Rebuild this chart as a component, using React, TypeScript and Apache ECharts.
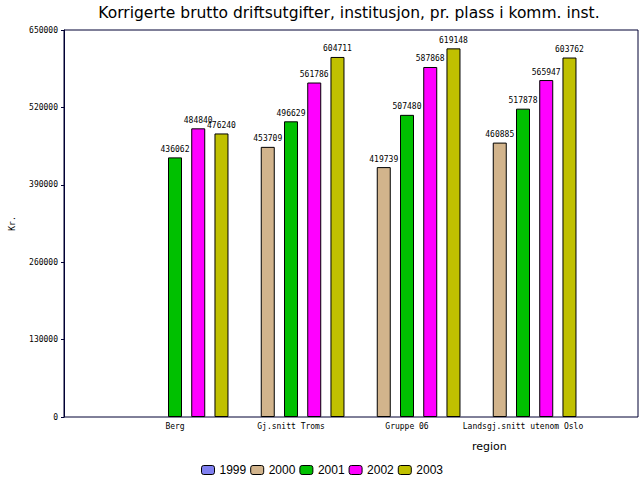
import React, { useEffect, useRef } from "react";
import * as echarts from "echarts";

const categories = ["Berg", "Gj.snitt Troms", "Gruppe 06", "Landsgj.snitt utenom Oslo"];
const years = ["1999", "2000", "2001", "2002", "2003"];
const v1999: (number | null)[] = [null, null, null, null];
const v2000: (number | null)[] = [null, 453709, 419739, 460885];
const v2001: (number | null)[] = [436062, 496629, 507480, 517878];
const v2002: (number | null)[] = [484840, 561786, 587868, 565947];
const v2003: (number | null)[] = [476240, 604711, 619148, 603762];
const yTicks = [0, 130000, 260000, 390000, 520000, 650000];
const colors = ["#8080f0", "#d2b48c", "#00c000", "#ff00ff", "#c0c000"];

export default function App() {
  const ref = useRef<HTMLDivElement>(null);
  useEffect(() => {
    if (!ref.current) return;
    const chart = echarts.init(ref.current, null, { renderer: "svg" });
    const seriesData = [v1999, v2000, v2001, v2002, v2003];
    const mono = "DejaVu Sans Mono";
    chart.setOption({
      animation: false,
      backgroundColor: "#ffffff",
      title: {
        text: "Korrigerte brutto driftsutgifter, institusjon, pr. plass i komm. inst.",
        left: 344,
        textAlign: "center",
        top: 0,
        textStyle: { fontFamily: "DejaVu Sans", fontSize: 15.5, fontWeight: "normal", color: "#000" },
      },
      legend: {
        bottom: -1,
        left: 196,
        itemWidth: 13,
        itemHeight: 9,
        itemGap: 4,
        data: years,
        textStyle: { fontFamily: "Liberation Sans", fontSize: 12, color: "#000" },
        itemStyle: { borderColor: "#000", borderWidth: 1 },
      },
      grid: [
        { left: 59, right: 2, top: 30, bottom: 63, show: true, borderColor: "#000033", borderWidth: 1, backgroundColor: "#fff" },
        { left: 117, right: 59, top: 30, bottom: 63 },
      ],
      xAxis: [
        { type: "category", gridIndex: 0, data: [""], show: false },
        {
          type: "category",
          gridIndex: 1,
          data: categories,
          axisLine: { show: false },
          axisTick: { show: false },
          axisLabel: { fontFamily: mono, fontSize: 8, color: "#000", margin: 5, interval: 0 },
        },
      ],
      yAxis: [
        {
          type: "value",
          gridIndex: 0,
          min: 0,
          max: 650000,
          interval: yTicks[1],
          name: "Kr.",
          nameLocation: "middle",
          nameGap: 48,
          nameTextStyle: { fontFamily: mono, fontSize: 8, color: "#000" },
          axisLine: { show: true, lineStyle: { color: "#000033" } },
          axisTick: { show: true, length: 3, lineStyle: { color: "#000033" } },
          axisLabel: { fontFamily: mono, fontSize: 8, color: "#000", margin: 6, formatter: (v: number) => String(v) },
          splitLine: { show: false },
        },
        { type: "value", gridIndex: 1, min: 0, max: 650000, show: false, splitLine: { show: false } },
      ],
      graphic: [
        {
          type: "text",
          left: 472,
          top: 441,
          style: { text: "region", fontFamily: "DejaVu Sans", fontSize: 11, fill: "#000" },
        },
      ],
      series: years.map((y, i) => ({
        name: y,
        type: "bar",
        xAxisIndex: 1,
        yAxisIndex: 1,
        data: seriesData[i],
        barWidth: 14,
        barGap: "66%",
        itemStyle: { color: colors[i], borderColor: "#000", borderWidth: 1 },
        label: {
          show: true,
          position: "top",
          distance: 4,
          fontFamily: mono,
          fontSize: 8,
          color: "#000",
        },
      })),
    });
    return () => chart.dispose();
  }, []);
  return <div ref={ref} style={{ width: 640, height: 480, position: "absolute", left: 0, top: 0 }} />;
}
